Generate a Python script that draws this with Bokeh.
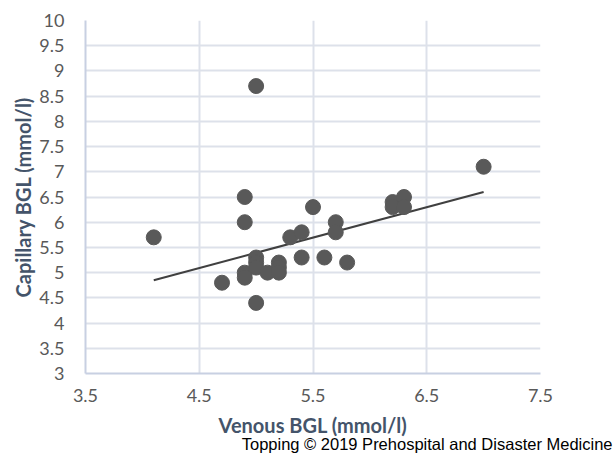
from bokeh.plotting import figure
from bokeh.models import FixedTicker, Range1d, Title
from bokeh.embed import file_html
from bokeh.resources import INLINE

# Data
venous = [4.1, 4.7, 4.9, 4.9, 4.9, 4.9, 5.0, 5.0, 5.0, 5.0, 5.0, 5.1, 5.2, 5.2, 5.2,
          5.3, 5.4, 5.4, 5.5, 5.6, 5.7, 5.7, 5.8, 6.2, 6.2, 6.3, 6.3, 7.0]
capillary = [5.7, 4.8, 6.5, 6.0, 5.0, 4.9, 8.7, 5.3, 5.2, 5.1, 4.4, 5.0, 5.2, 5.1, 5.0,
             5.7, 5.8, 5.3, 6.3, 5.3, 6.0, 5.8, 5.2, 6.4, 6.3, 6.5, 6.3, 7.1]
trend_x = [4.1, 7.0]
trend_y = [4.85, 6.6]

x_ticks = [3.5, 4.5, 5.5, 6.5, 7.5]
x_tick_labels = ["3.5", "4.5", "5.5", "6.5", "7.5"]
y_ticks = [3, 3.5, 4, 4.5, 5, 5.5, 6, 6.5, 7, 7.5, 8, 8.5, 9, 9.5, 10]
y_tick_labels = ["3", "3.5", "4", "4.5", "5", "5.5", "6", "6.5", "7", "7.5",
                 "8", "8.5", "9", "9.5", "10"]

FONT = "Lato"
TICK_COLOR = "#595959"
TITLE_COLOR = "#44546a"
GRID_COLOR = "#dde1ea"

p = figure(width=613, height=455, output_backend="svg", toolbar_location=None,
           x_range=Range1d(3.5, 7.5), y_range=Range1d(3, 10),
           min_border_left=85, min_border_right=73, min_border_top=20, min_border_bottom=82)
p.outline_line_color = None
p.background_fill_color = "white"

p.xaxis.ticker = FixedTicker(ticks=x_ticks)
p.yaxis.ticker = FixedTicker(ticks=y_ticks)
p.xaxis.major_label_overrides = {t: l for t, l in zip(x_ticks, x_tick_labels)}
p.yaxis.major_label_overrides = {t: l for t, l in zip(y_ticks, y_tick_labels)}

for ax in (p.xaxis, p.yaxis):
    ax.major_tick_line_color = None
    ax.minor_tick_line_color = None
    ax.axis_line_color = "#c8d0e2"
    ax.axis_line_width = 2
    ax.major_label_text_font = FONT
    ax.major_label_text_font_size = "18px"
    ax.major_label_text_color = TICK_COLOR
    ax.axis_label_text_font = FONT
    ax.axis_label_text_font_size = "20px"
    ax.axis_label_text_font_style = "bold"
    ax.axis_label_text_color = TITLE_COLOR

p.xaxis.axis_label = "Venous BGL (mmol/l)"
p.yaxis.axis_label = "Capillary BGL (mmol/l)"
p.xaxis.major_label_standoff = 9
p.xaxis.axis_label_standoff = 8
p.yaxis.major_label_standoff = 15
p.yaxis.axis_label_standoff = 1

p.xgrid.grid_line_color = GRID_COLOR
p.ygrid.grid_line_color = GRID_COLOR
p.xgrid.grid_line_width = 2
p.ygrid.grid_line_width = 2

p.line(trend_x, trend_y, line_color="#404040", line_width=2)
p.scatter(venous, capillary, size=15, fill_color="#595959", line_color="#595959")

credit = Title(text="Topping \u00a9 2019 Prehospital and Disaster Medicine", align="right",
               text_font="Liberation Sans", text_font_size="16.5px", text_font_style="normal",
               text_color="black", offset=-72, standoff=-14)
p.add_layout(credit, "below")

open("out.html", "w").write(file_html(p, INLINE))
